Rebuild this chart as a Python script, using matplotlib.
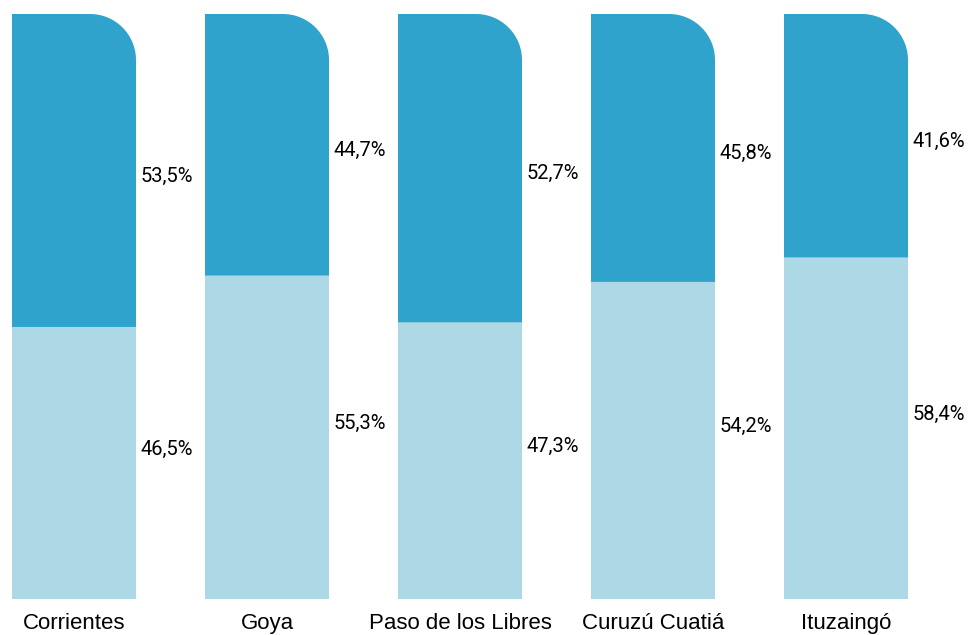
import matplotlib
matplotlib.use("Agg")
import numpy as np
import matplotlib.pyplot as plt
from matplotlib.path import Path
from matplotlib.patches import PathPatch

# data
cities = ["Corrientes", "Goya", "Paso de los Libres", "Curuzú Cuatiá", "Ituzaingó"]
top_pct = [53.5, 44.7, 52.7, 45.8, 41.6]
bottom_pct = [46.5, 55.3, 47.3, 54.2, 58.4]

dark = "#2fa3cb"
light = "#add8e6"

plt.rcParams["font.family"] = ["Roboto", "DejaVu Sans"]

W, H = 976, 635
fig = plt.figure(figsize=(W / 100, H / 100), dpi=100)
ax = fig.add_axes([0, 36 / H, 1, 585 / H])

pitch_px = 193
bar_w = 124 / pitch_px
ax.set_xlim(-74 / pitch_px, (W - 74) / pitch_px)
ax.set_ylim(0, 100)
ax.axis("off")

x = np.arange(len(cities))
ax.bar(x, bottom_pct, width=bar_w, color=light, linewidth=0)

# top segment with a rounded top-right corner
r_px = 46
rx = r_px / pitch_px
ry = r_px / 5.85
t = np.linspace(0, np.pi / 2, 30)
fmt = lambda v: f"{v:.1f}%".replace(".", ",")
for xi, b, tp in zip(x, bottom_pct, top_pct):
    x0, x1 = xi - bar_w / 2, xi + bar_w / 2
    y0, y1 = b, b + tp
    verts = [(x0, y0), (x1, y0), (x1, y1 - ry)]
    verts += [(x1 - rx + rx * np.cos(a), y1 - ry + ry * np.sin(a)) for a in t]
    verts += [(x0, y1), (x0, y0)]
    ax.add_patch(PathPatch(Path(verts), facecolor=dark, edgecolor="none"))

    ax.annotate(fmt(tp), (x1, b + tp / 2), xytext=(3.5, -4), textcoords="offset points",
                ha="left", va="center", fontsize=14.5)
    ax.annotate(fmt(b), (x1, b / 2), xytext=(3.5, 10), textcoords="offset points",
                ha="left", va="center", fontsize=14.5)
    ax.annotate(cities[xi], (xi, 0), xytext=(0, -17.5), textcoords="offset points",
                ha="center", va="center", fontsize=16, family="Liberation Sans")

fig.savefig("out.png", dpi=100)
